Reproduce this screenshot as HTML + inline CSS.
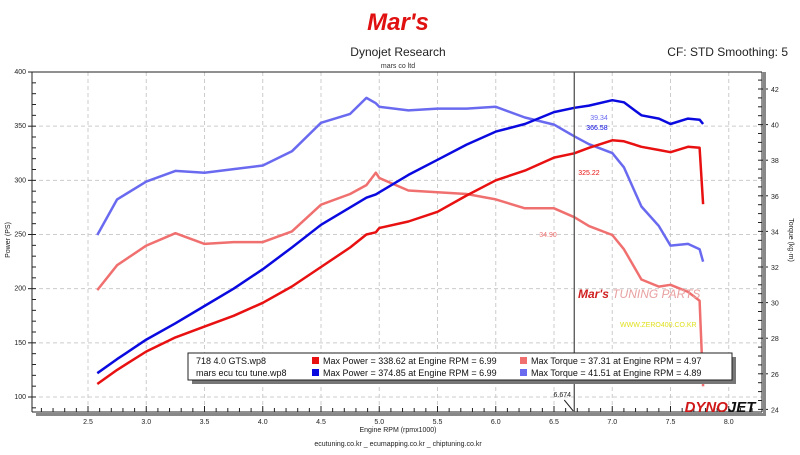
<!DOCTYPE html>
<html><head><meta charset="utf-8"><style>
body{margin:0;background:#fff;width:800px;height:450px;overflow:hidden;font-family:"Liberation Sans",sans-serif}
svg text{font-family:"Liberation Sans",sans-serif}
</style></head><body>
<svg id="chart" width="800" height="450">
<text x="398" y="30" text-anchor="middle" font-size="24" font-style="italic" font-weight="bold" fill="#e01010">Mar's</text>
<text x="398" y="56" text-anchor="middle" font-size="12" fill="#222">Dynojet Research</text>
<text x="398" y="68" text-anchor="middle" font-size="7" fill="#333">mars co ltd</text>
<text x="788" y="56" text-anchor="end" font-size="12" fill="#222">CF: STD Smoothing: 5</text>
<g id="grid"></g><g id="axes"></g><g id="series"></g>
<text x="578" y="298" font-size="12" font-style="italic" fill="#e8a0a0"><tspan font-weight="bold" fill="#d02020">Mar's</tspan> TUNING PARTS</text>
<text x="620" y="327" font-size="7" fill="#e0e020">WWW.ZERO400.CO.KR</text>
<text x="398" y="432" text-anchor="middle" font-size="7" fill="#222">Engine RPM (rpmx1000)</text>
<text x="398" y="446" text-anchor="middle" font-size="7" fill="#222">ecutuning.co.kr _ ecumapping.co.kr _ chiptuning.co.kr</text>
<text transform="translate(10,240) rotate(-90)" text-anchor="middle" font-size="7" fill="#222">Power (PS)</text>
<text transform="translate(789,240) rotate(90)" text-anchor="middle" font-size="7" fill="#222">Torque (kg·m)</text>
<text x="720" y="412" text-anchor="middle" font-size="15" font-style="italic" font-weight="bold" fill="#d01818">DYNO<tspan fill="#111">JET</tspan></text>
<g>
<rect x="192" y="357" width="544" height="27" fill="#777"/>
<rect x="188" y="353" width="544" height="27" fill="#fff" stroke="#222"/>
<text x="196" y="364" font-size="9" fill="#111">718 4.0 GTS.wp8</text>
<text x="196" y="376" font-size="9" fill="#111">mars ecu tcu tune.wp8</text>
<rect x="312" y="357" width="7" height="7" fill="#e81010"/>
<text x="323" y="364" font-size="9" fill="#111">Max Power = 338.62 at Engine RPM = 6.99</text>
<rect x="312" y="369" width="7" height="7" fill="#0a0ae0"/>
<text x="323" y="376" font-size="9" fill="#111">Max Power = 374.85 at Engine RPM = 6.99</text>
<rect x="520" y="357" width="7" height="7" fill="#f07070"/>
<text x="531" y="364" font-size="9" fill="#111">Max Torque = 37.31 at Engine RPM = 4.97</text>
<rect x="520" y="369" width="7" height="7" fill="#6a6af0"/>
<text x="531" y="376" font-size="9" fill="#111">Max Torque = 41.51 at Engine RPM = 4.89</text>
</g>
</svg>
<script>
const rpm = [2.58,2.75,3.0,3.25,3.5,3.75,4.0,4.25,4.5,4.75,4.89,4.97,5.0,5.25,5.5,5.75,6.0,6.25,6.5,6.674,6.8,7.0,7.1,7.25,7.4,7.5,7.65,7.75,7.78];
const powerMars = [122,135,153,168,184,200,218,238,259,275,284,287,289,305,319,333,345,352,363,367,369,374,372,360,357,352,357,356,352];
const powerGts = [112,125,142,155,165,175,187,202,220,238,250,252,256,262,271,286,300,309,321,325,330,337,336,331,328,326,331,330,278];
const torqueMars = [33.8,35.8,36.8,37.4,37.3,37.5,37.7,38.5,40.1,40.6,41.5,41.2,41.0,40.8,40.9,40.9,41.0,40.4,40.0,39.34,38.9,38.4,37.6,35.4,34.3,33.2,33.3,33.0,32.3];
const torqueGts = [30.7,32.1,33.2,33.9,33.3,33.4,33.4,34.0,35.5,36.1,36.6,37.3,37.0,36.3,36.2,36.1,35.8,35.3,35.3,34.8,34.3,33.8,33.0,31.3,30.9,31.0,30.6,30.1,25.3];
const xTicks = ["2.5","3.0","3.5","4.0","4.5","5.0","5.5","6.0","6.5","7.0","7.5","8.0"];
const powerTicks = [100,150,200,250,300,350,400];
const torqueTicks = [24,26,28,30,32,34,36,38,40,42];

const X0=32,X1=762,Y0=72,Y1=412;
const xs = r => 88 + (r-2.5)*116.5;
const yP = p => 397 - (p-100)*1.0833;
const yT = t => 124.6 - (t-40)*17.8;
const NS='http://www.w3.org/2000/svg';
function mk(parent,tag,attrs){const e=document.createElementNS(NS,tag);for(const k in attrs)e.setAttribute(k,attrs[k]);parent.appendChild(e);return e;}
const grid=document.getElementById('grid'),axes=document.getElementById('axes'),series=document.getElementById('series');

xTicks.forEach(t=>{const x=xs(+t);
  const g=mk(grid,'line',{x1:x,x2:x,y1:Y0,y2:Y1,stroke:'#ccc','stroke-dasharray':'4,3'});
  
  
  const l=mk(axes,'text',{x:x,y:Y1+12,'text-anchor':'middle','font-size':7,fill:'#222'});l.textContent=t;
  
  
});
for(let r=2.1;r<8.3;r+=0.1){const x=xs(r);mk(axes,'line',{x1:x,x2:x,y1:Y1,y2:Y1-(Math.abs((r*2)-Math.round(r*2))<0.01?6:4),stroke:'#222'});}
powerTicks.forEach(p=>{const y=yP(p);
  const g=mk(grid,'line',{x1:X0,x2:X1,y1:y,y2:y,stroke:'#ccc','stroke-dasharray':'4,3'});
  
  
  mk(axes,'line',{x1:X0-4,x2:X0,y1:y,y2:y,stroke:'#222'});
  const l=mk(axes,'text',{x:X0-6,y:y+2,'text-anchor':'end','font-size':7,fill:'#222'});l.textContent=p;
  
  
});
for(let p=90;p<=400;p+=10){const y=yP(p);mk(axes,'line',{x1:X0,x2:X0+4,y1:y,y2:y,stroke:'#222'});}
torqueTicks.forEach(t=>{const y=yT(t);
  mk(axes,'line',{x1:X1,x2:X1+6,y1:y,y2:y,stroke:'#222'});
  const l=mk(axes,'text',{x:X1+9,y:y+3,'font-size':7,fill:'#222'});l.textContent=t;
  
  
});
for(let t=24;t<=42.5;t+=0.5){const y=yT(t);mk(axes,'line',{x1:X1-4,x2:X1,y1:y,y2:y,stroke:'#222'});}
mk(axes,'rect',{x:X1+1,y:Y0,width:3,height:Y1-Y0+2,fill:'#888'});
mk(axes,'rect',{x:X0+4,y:Y1+1,width:X1-X0,height:3,fill:'#888'});
const axL=mk(axes,'line',{x1:X0,x2:X0,y1:Y0,y2:Y1,stroke:'#222'});


const axR=mk(axes,'line',{x1:X1,x2:X1,y1:Y0,y2:Y1,stroke:'#222'});


const axB=mk(axes,'line',{x1:X0,x2:X1,y1:Y1,y2:Y1,stroke:'#222'});


mk(axes,'line',{x1:X0,x2:X1,y1:Y0,y2:Y0,stroke:'#222'});

function draw(vals,yf,color,name){
  const d=vals.map((v,i)=>(i?'L':'M')+xs(rpm[i]).toFixed(1)+','+yf(v).toFixed(1)).join(' ');
  const p=mk(series,'path',{d:d,fill:'none',stroke:color,'stroke-width':2.5,'stroke-linejoin':'round'});
  
  
}
draw(torqueGts,yT,'#f07070','torque-line-gts');
draw(torqueMars,yT,'#6a6af0','torque-line-mars');
draw(powerGts,yP,'#e81010','power-line-gts');
draw(powerMars,yP,'#0a0ae0','power-line-mars');

const cx=xs(6.674);
const cur=mk(series,'line',{x1:cx,x2:cx,y1:Y0,y2:Y1,stroke:'#555','stroke-width':1.3});


const cl=mk(series,'text',{x:cx-12,y:Y1-15,'text-anchor':'middle','font-size':7,fill:'#222'});cl.textContent='6.674';


mk(series,'line',{x1:cx-10,y1:Y1-12,x2:cx-1,y2:Y1-1,stroke:'#222'});
const ann=[[cx+16,120,'39.34','#6a6af0'],[cx+12,130,'366.58','#0a0ae0'],[cx+4,175,'325.22','#e81010'],[cx-35,237,'34.90','#f07070']];
ann.forEach(a=>{const t=mk(series,'text',{x:a[0],y:a[1],'font-size':7,fill:a[3]});t.textContent=a[2];
  
  });
</script>
</body></html>
